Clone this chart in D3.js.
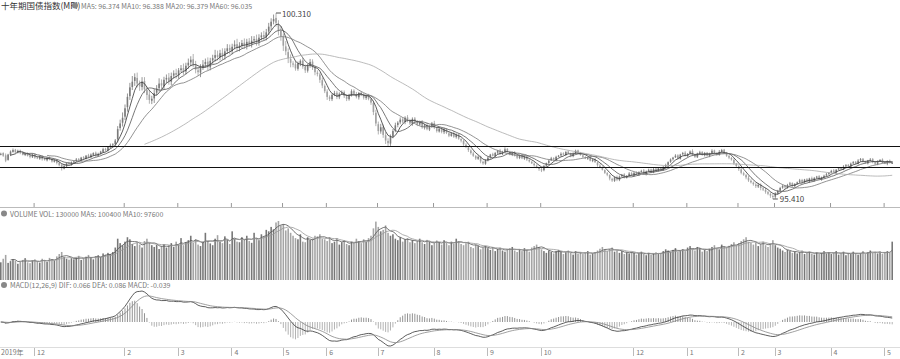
<!DOCTYPE html>
<html><head><meta charset="utf-8">
<script src="https://cdn.jsdelivr.net/npm/d3@7"></script>
<style>body{margin:0;background:#fff;} svg{display:block;font-family:"Noto Sans CJK SC","Noto Sans",sans-serif;}</style>
</head><body><svg id="c" width="900" height="359"></svg>
<script>
const titleText = "十年期国债指数(MFI)";
const closes = [
96.60,96.55,96.42,96.58,96.66,96.70,96.64,96.68,96.62,96.58,
96.60,96.55,96.52,96.57,96.50,96.48,96.53,96.46,96.44,96.49,
96.45,96.40,96.42,96.36,96.30,96.22,96.28,96.35,96.33,96.38,
96.40,96.45,96.43,96.50,96.48,96.55,96.52,96.58,96.62,96.56,
96.60,96.66,96.72,96.70,96.78,96.82,96.85,96.95,97.25,97.40,
97.55,97.80,98.10,98.35,98.50,98.62,98.45,98.38,98.50,98.30,
98.15,98.02,98.05,98.20,98.32,98.45,98.40,98.55,98.60,98.52,
98.65,98.72,98.68,98.80,98.85,98.78,98.92,99.00,99.08,98.95,
98.82,98.75,98.88,98.95,99.02,98.90,99.05,99.12,99.20,99.15,
99.25,99.18,99.30,99.38,99.32,99.42,99.48,99.40,99.45,99.52,
99.46,99.55,99.50,99.58,99.62,99.55,99.66,99.72,99.68,99.80,
99.95,100.08,100.15,100.05,99.85,99.70,99.45,99.30,99.12,99.00,
98.95,98.85,98.98,99.05,98.90,98.80,98.92,99.02,98.88,98.75,
98.70,98.55,98.40,98.25,98.10,98.05,98.15,98.20,98.10,98.18,
98.22,98.12,98.05,98.15,98.25,98.18,98.10,98.20,98.16,98.08,
98.12,98.05,97.95,97.70,97.40,97.20,97.30,97.10,96.95,96.88,
97.05,97.20,97.35,97.42,97.50,97.45,97.55,97.48,97.40,97.52,
97.45,97.38,97.42,97.30,97.35,97.25,97.32,97.40,97.28,97.20,
97.26,97.18,97.24,97.15,97.08,97.14,97.05,97.10,97.00,96.95,
96.85,96.78,96.70,96.62,96.55,96.48,96.52,96.40,96.35,96.42,
96.50,96.58,96.55,96.62,96.68,96.60,96.65,96.72,96.66,96.58,
96.62,96.55,96.50,96.56,96.48,96.52,96.45,96.40,96.35,96.30,
96.25,96.20,96.18,96.28,96.35,96.42,96.48,96.45,96.52,96.55,
96.60,96.58,96.65,96.62,96.55,96.60,96.68,96.63,96.57,96.52,
96.48,96.50,96.42,96.45,96.38,96.30,96.25,96.18,96.10,96.05,
95.95,95.90,95.98,95.92,96.00,96.05,95.98,96.02,96.08,96.04,
96.10,96.06,96.12,96.15,96.08,96.14,96.18,96.12,96.20,96.16,
96.22,96.18,96.25,96.30,96.38,96.45,96.50,96.55,96.48,96.58,
96.62,96.55,96.60,96.66,96.58,96.52,96.60,96.64,96.57,96.62,
96.55,96.60,96.68,96.63,96.58,96.65,96.70,96.62,96.55,96.50,
96.45,96.35,96.28,96.20,96.10,96.05,95.98,95.90,95.85,95.80,
95.75,95.78,95.70,95.66,95.60,95.55,95.50,95.48,95.55,95.62,
95.70,95.75,95.72,95.78,95.82,95.76,95.80,95.85,95.90,95.86,
95.92,95.88,95.95,95.90,95.96,96.00,95.94,95.98,96.02,96.06,
96.10,96.15,96.12,96.18,96.22,96.20,96.26,96.30,96.28,96.34,
96.38,96.35,96.42,96.46,96.40,96.36,96.42,96.45,96.38,96.34,
96.40,96.44,96.38,96.35,96.41,96.37,96.36
];
const opens = [
96.58,96.62,96.56,96.44,96.57,96.65,96.71,96.63,96.69,96.63,
96.57,96.61,96.56,96.51,96.58,96.51,96.47,96.54,96.47,96.43,
96.50,96.46,96.39,96.43,96.37,96.31,96.21,96.27,96.36,96.32,
96.37,96.41,96.46,96.42,96.51,96.47,96.56,96.51,96.57,96.63,
96.55,96.61,96.65,96.73,96.69,96.77,96.83,96.86,96.98,97.28,
97.42,97.58,97.83,98.12,98.36,98.52,98.60,98.44,98.36,98.52,
98.28,98.16,98.00,98.06,98.21,98.33,98.46,98.38,98.56,98.61,
98.50,98.66,98.73,98.67,98.81,98.86,98.77,98.93,99.01,99.09,
98.94,98.80,98.74,98.89,98.96,99.03,98.88,99.06,99.13,99.21,
99.14,99.26,99.17,99.31,99.39,99.31,99.43,99.49,99.39,99.46,
99.53,99.45,99.56,99.49,99.59,99.63,99.54,99.67,99.73,99.67,
99.82,99.96,100.09,100.18,100.02,99.84,99.68,99.43,99.28,99.10,
98.98,98.96,98.84,98.99,99.06,98.89,98.79,98.93,99.03,98.87,
98.74,98.69,98.54,98.39,98.24,98.09,98.04,98.16,98.21,98.09,
98.19,98.23,98.11,98.04,98.16,98.26,98.17,98.09,98.21,98.15,
98.07,98.13,98.04,97.94,97.68,97.38,97.19,97.31,97.09,96.94,
96.87,97.06,97.21,97.36,97.43,97.51,97.44,97.56,97.47,97.39,
97.53,97.44,97.37,97.43,97.29,97.36,97.24,97.33,97.41,97.27,
97.19,97.27,97.17,97.25,97.14,97.07,97.15,97.04,97.11,96.99,
96.94,96.84,96.77,96.69,96.61,96.54,96.47,96.53,96.39,96.34,
96.43,96.51,96.59,96.54,96.63,96.69,96.59,96.66,96.73,96.65,
96.57,96.63,96.54,96.49,96.57,96.47,96.53,96.44,96.39,96.34,
96.29,96.24,96.19,96.17,96.29,96.36,96.43,96.49,96.44,96.53,
96.56,96.61,96.57,96.66,96.61,96.54,96.61,96.69,96.62,96.56,
96.51,96.47,96.51,96.41,96.46,96.37,96.29,96.24,96.17,96.09,
96.04,95.94,95.89,95.99,95.91,96.01,96.06,95.97,96.03,96.09,
96.03,96.11,96.05,96.13,96.16,96.07,96.15,96.19,96.11,96.21,
96.15,96.23,96.17,96.26,96.31,96.39,96.46,96.51,96.56,96.47,
96.59,96.63,96.54,96.61,96.67,96.57,96.51,96.61,96.65,96.56,
96.63,96.54,96.61,96.69,96.62,96.57,96.66,96.71,96.61,96.54,
96.49,96.44,96.34,96.27,96.19,96.09,96.04,95.97,95.89,95.84,
95.79,95.74,95.79,95.69,95.65,95.59,95.54,95.49,95.47,95.56,
95.63,95.71,95.76,95.71,95.79,95.83,95.75,95.81,95.86,95.91,
95.85,95.93,95.87,95.96,95.89,95.97,96.01,95.93,95.99,96.03,
96.07,96.11,96.16,96.11,96.19,96.23,96.19,96.27,96.31,96.27,
96.35,96.39,96.34,96.43,96.47,96.39,96.35,96.43,96.46,96.37,
96.33,96.41,96.45,96.37,96.34,96.42,96.36
];
// upper / lower shadow lengths, in 0.01 price units
const upperWicks = [
3,2,5,2,3,4,2,3,2,4, 2,3,2,4,3,2,3,2,4,2, 3,2,4,3,2,3,5,2,3,2, 2,4,3,2,3,2,4,3,2,3,
3,2,4,3,2,5,3,4,8,10, 14,10,9,12,15,10,14,9,12,10, 9,12,8,11,9,14,10,8,9,12, 9,8,11,6,9,12,8,11,9,14,
11,9,8,12,9,11,8,9,14,11, 9,12,8,11,9,8,11,14,9,8, 11,8,9,12,8,11,9,8,11,9, 10,9,12,13,10,12,9,14,10,12,
6,8,5,4,7,6,5,8,6,5, 6,5,7,4,6,5,4,6,5,4, 5,4,6,3,5,4,6,3,4,5, 4,5,3,6,8,7,9,6,8,7,
6,5,7,4,6,5,4,6,5,4, 4,5,3,6,4,5,3,4,6,3, 4,3,5,2,4,3,5,4,3,2, 3,4,2,3,5,3,4,2,3,4,
3,2,4,3,2,4,3,5,2,3, 2,4,3,2,3,4,2,3,2,4, 3,2,4,3,2,3,4,2,3,2, 4,3,2,3,2,4,3,2,3,2,
3,2,4,2,3,2,4,3,2,3, 2,3,2,4,3,2,3,2,4,3, 2,3,2,3,4,2,3,2,3,2, 3,2,3,4,2,3,2,4,3,2,
3,4,2,3,5,2,3,4,2,3, 2,3,4,2,3,5,3,2,4,3, 3,4,2,3,5,4,3,5,4,3, 4,5,3,4,6,3,4,5,4,3,
3,4,2,3,4,2,3,2,4,3, 2,3,2,4,3,2,3,2,3,4, 2,3,4,2,3,2,4,3,2,3, 3,2,4,3,2,3,2,4,3,2,
3,2,3,4,2,3,5
];
const lowerWicks = [
2,3,4,2,3,2,3,2,3,2, 3,2,4,2,3,2,3,4,2,3, 2,3,2,4,3,6,2,3,2,3, 3,2,3,2,4,2,3,2,3,4,
2,3,2,4,3,2,3,4,8,7, 10,9,12,10,8,13,10,12,9,10, 13,10,9,12,7,9,10,8,9,10, 9,8,10,9,6,10,8,9,10,7,
10,9,12,8,9,10,8,9,10,9, 8,10,9,8,10,9,8,10,9,8, 9,10,8,9,8,10,9,8,9,8, 9,10,8,10,13,12,14,10,13,12,
7,6,5,8,6,7,5,6,7,8, 6,8,7,5,8,6,5,4,6,5, 4,5,6,4,5,3,4,6,4,5, 5,4,6,8,7,9,6,8,9,10,
6,5,4,6,5,4,6,5,4,5, 4,5,3,4,5,3,4,5,3,4, 3,4,5,3,4,2,3,4,3,5, 4,3,5,4,3,4,3,5,4,3,
3,4,2,3,4,3,2,4,3,2, 3,2,4,3,2,3,4,3,2,4, 3,5,6,3,2,3,2,3,4,2, 3,2,3,2,4,3,2,3,2,3,
2,3,2,3,2,4,3,2,3,4, 5,4,3,4,3,2,3,2,3,2, 3,2,3,2,3,4,2,3,2,3, 2,3,2,3,2,3,4,2,3,2,
3,2,3,2,4,3,2,3,2,3, 2,3,2,4,3,2,3,2,3,4, 3,4,3,5,4,3,5,4,3,4, 5,4,6,4,5,4,6,7,5,4,
4,3,4,3,2,4,3,2,3,4, 3,2,4,3,2,3,2,4,3,2, 3,2,3,4,2,3,2,3,2,3, 2,3,2,4,3,2,3,2,3,4,
3,2,3,2,4,3,2
];
// volume, thousand lots
const volumes = [
60,72,85,58,64,70,66,55,62,68, 74,60,57,66,70,63,59,72,68,61, 75,70,66,80,88,95,78,72,69,74, 70,76,82,68,73,79,85,77,70,81,
84,78,90,86,92,88,95,110,140,125, 118,130,145,138,122,115,128,120,110,132, 140,126,118,112,120,105,115,122,110,118, 125,112,130,120,142,118,128,135,150,126,
138,120,115,128,160,132,124,118,140,152, 130,125,148,136,122,165,140,130,128,145, 138,150,132,126,160,142,135,155,148,170, 165,180,172,195,200,185,190,168,175,160,
150,142,138,155,130,128,145,136,140,150, 148,155,140,138,132,145,125,130,142,120, 128,135,122,118,130,126,140,132,125,138, 130,142,150,175,198,180,165,170,185,160,
150,155,140,135,145,130,138,142,128,135, 125,132,140,128,122,136,130,118,126,134, 128,120,135,126,118,130,124,140,132,122, 118,125,130,112,108,120,115,104,110,116,
108,102,112,98,105,110,100,96,104,108, 112,100,95,104,98,108,102,96,110,115, 120,112,104,98,92,100,95,90,98,102, 96,88,94,100,92,86,98,90,94,88,
92,98,86,90,95,100,106,112,104,98, 105,110,96,100,92,98,88,94,90,96, 92,86,90,96,88,84,92,86,90,94, 88,92,98,104,100,95,102,108,96,100,
104,98,110,115,106,100,112,108,96,102, 98,106,112,118,108,104,120,114,110,116, 122,128,118,125,132,138,145,130,126,120, 128,115,122,130,118,112,124,135,118,110,
106,100,95,102,98,92,96,90,94,100, 88,92,96,90,86,94,88,92,98,90, 94,88,92,98,86,90,96,84,92,88, 96,90,86,92,98,88,94,100,92,96,
90,96,88,94,98,92,130
];
const yearLabel = "2019年";
const monthLabels = ["12","2","3","4","5","6","7","8","9","10","12","1","2","3","4","5"];
const monthStarts = [14,51,73,95,116,134,155,178,200,222,260,282,303,318,341,363];
const levelLines = [96.81, 96.25];
const maPeriods = [5,10,20,60];
const maColors = ["#333","#555","#777","#aaa"];

const N = closes.length;
const r2 = v => Math.round(v*1000)/1000;
const highs = closes.map((c,i)=> r2(Math.max(c,opens[i]) + upperWicks[i]/100));
const lows  = closes.map((c,i)=> r2(Math.min(c,opens[i]) - lowerWicks[i]/100));

function sma(arr,n){ return arr.map((_,i)=> i<n-1 ? null : d3.mean(arr.slice(i-n+1,i+1))); }
function ema(arr,n){ const k=2/(n+1); let e=arr[0]; return arr.map((v,i)=> (e = i===0 ? v : v*k + e*(1-k))); }
const ema12 = ema(closes,12), ema26 = ema(closes,26);
const dif = ema12.map((v,i)=> v-ema26[i]);
const dea = ema(dif,9);
const hist = dif.map((v,i)=> 2*(v-dea[i]));

const svg = d3.select("#c");
const x = d3.scaleBand().domain(d3.range(N)).range([0,893]).paddingInner(0.35);
const cx = i => x(i) + x.bandwidth()/2;

// ---- price panel
const yP = d3.scaleLinear().domain([d3.min(lows), d3.max(highs)]).range([199,13]);
const g = svg.append("g");
g.selectAll("line.w").data(closes).join("line")
  .attr("x1",(d,i)=>cx(i)).attr("x2",(d,i)=>cx(i))
  .attr("y1",(d,i)=>yP(highs[i])).attr("y2",(d,i)=>yP(lows[i]))
  .attr("stroke",(d,i)=> d>=opens[i] ? "#7a7a7a" : "#a0a0a0").attr("stroke-width",0.8);
g.selectAll("rect.b").data(closes).join("rect")
  .attr("x",(d,i)=>x(i)).attr("width",x.bandwidth())
  .attr("y",(d,i)=>yP(Math.max(d,opens[i])))
  .attr("height",(d,i)=>Math.max(1, Math.abs(yP(d)-yP(opens[i]))))
  .attr("fill",(d,i)=> d>=opens[i] ? "#7a7a7a" : "#a0a0a0");

maPeriods.forEach((p,k)=>{
  const m = sma(closes,p);
  g.append("path").datum(m)
    .attr("d", d3.line().defined(d=>d!=null).x((d,i)=>cx(i)).y(d=>yP(d)))
    .attr("fill","none").attr("stroke",maColors[k]).attr("stroke-width",0.8);
});

levelLines.forEach(v=>{
  svg.append("line").attr("x1",0).attr("x2",900).attr("y1",Math.round(yP(v))+0.5).attr("y2",Math.round(yP(v))+0.5)
    .attr("stroke","#111").attr("stroke-width",1);
});

// high / low markers
const iHigh = d3.maxIndex(highs), iLow = d3.minIndex(lows);
svg.append("line").attr("x1",cx(iHigh)).attr("x2",cx(iHigh)+5).attr("y1",yP(highs[iHigh])).attr("y2",yP(highs[iHigh])).attr("stroke","#555");
svg.append("text").attr("x",cx(iHigh)+6).attr("y",yP(highs[iHigh])+4).attr("font-size",8).attr("fill","#444").text(highs[iHigh].toFixed(3));
svg.append("line").attr("x1",cx(iLow)).attr("x2",cx(iLow)+5).attr("y1",yP(lows[iLow])).attr("y2",yP(lows[iLow])).attr("stroke","#555");
svg.append("text").attr("x",cx(iLow)+7).attr("y",yP(lows[iLow])+3).attr("font-size",8).attr("fill","#444").text(lows[iLow].toFixed(3));

// title
svg.append("text").attr("x",1).attr("y",9).attr("font-size",8.5).attr("fill","#333").text(titleText);
svg.append("circle").attr("cx",75).attr("cy",5.5).attr("r",3).attr("fill","#888");
const last = N-1;
const maTxt = maPeriods.map(p=>`MA${p}: ${sma(closes,p)[last].toFixed(3)}`).join("  ");
svg.append("text").attr("x",81).attr("y",9).attr("font-size",7).attr("fill","#777").text(maTxt);

// axis line between price and volume
svg.append("line").attr("x1",0).attr("x2",900).attr("y1",207.5).attr("y2",207.5).attr("stroke","#bbb");
svg.selectAll("line.mt").data(monthStarts).join("line")
  .attr("x1",d=>x(d)).attr("x2",d=>x(d)).attr("y1",203).attr("y2",207).attr("stroke","#999");

// ---- volume panel
const yV = d3.scaleLinear().domain([0,d3.max(volumes)]).range([280,221]);
svg.append("g").selectAll("rect").data(volumes).join("rect")
  .attr("x",(d,i)=>x(i)).attr("width",x.bandwidth())
  .attr("y",d=>yV(d)).attr("height",d=>280-yV(d))
  .attr("fill",(d,i)=> closes[i]>=opens[i] ? "#777" : "#a5a5a5");
const vma5 = sma(volumes,5), vma10 = sma(volumes,10);
[[vma5,"#555"],[vma10,"#999"]].forEach(([m,c])=>{
  svg.append("path").datum(m).attr("d", d3.line().defined(d=>d!=null).x((d,i)=>cx(i)).y(d=>yV(d)))
    .attr("fill","none").attr("stroke",c).attr("stroke-width",0.8);
});
svg.append("circle").attr("cx",4).attr("cy",213.5).attr("r",3).attr("fill","#888");
svg.append("text").attr("x",10).attr("y",216.5).attr("font-size",7).attr("fill","#777")
  .text(`VOLUME   VOL: ${volumes[last]*1000}  MA5: ${Math.round(vma5[last]*1000)}  MA10: ${Math.round(vma10[last]*1000)}`);

// ---- MACD panel
const mAll = dif.concat(dea, hist);
const yM = d3.scaleLinear().domain([d3.min(mAll), d3.max(mAll)]).range([346,291]);
svg.append("g").selectAll("line").data(hist).join("line")
  .attr("x1",(d,i)=>cx(i)).attr("x2",(d,i)=>cx(i))
  .attr("y1",yM(0)).attr("y2",d=>yM(d))
  .attr("stroke",d=> d>=0 ? "#888" : "#aaa").attr("stroke-width",0.9);
[[dif,"#333"],[dea,"#888"]].forEach(([m,c])=>{
  svg.append("path").datum(m).attr("d", d3.line().x((d,i)=>cx(i)).y(d=>yM(d)))
    .attr("fill","none").attr("stroke",c).attr("stroke-width",0.8);
});
svg.append("circle").attr("cx",4).attr("cy",285).attr("r",3).attr("fill","#888");
svg.append("text").attr("x",10).attr("y",288).attr("font-size",7).attr("fill","#777")
  .text(`MACD(12,26,9) DIF: ${dif[last].toFixed(3)} DEA: ${dea[last].toFixed(3)} MACD: ${hist[last].toFixed(3)}`);

// ---- bottom axis
svg.append("line").attr("x1",0).attr("x2",900).attr("y1",347.5).attr("y2",347.5).attr("stroke","#ddd");
svg.append("text").attr("x",1).attr("y",355).attr("font-size",7).attr("fill","#777").text(yearLabel);
svg.selectAll("line.bt").data(monthStarts).join("line")
  .attr("x1",d=>Math.round(x(d))+0.5).attr("x2",d=>Math.round(x(d))+0.5).attr("y1",348).attr("y2",356).attr("stroke","#bbb");
svg.selectAll("text.bl").data(monthLabels).join("text")
  .attr("x",(d,i)=>x(monthStarts[i])+3).attr("y",355).attr("font-size",7).attr("fill","#777").text(d=>d);
</script>
</body></html>
